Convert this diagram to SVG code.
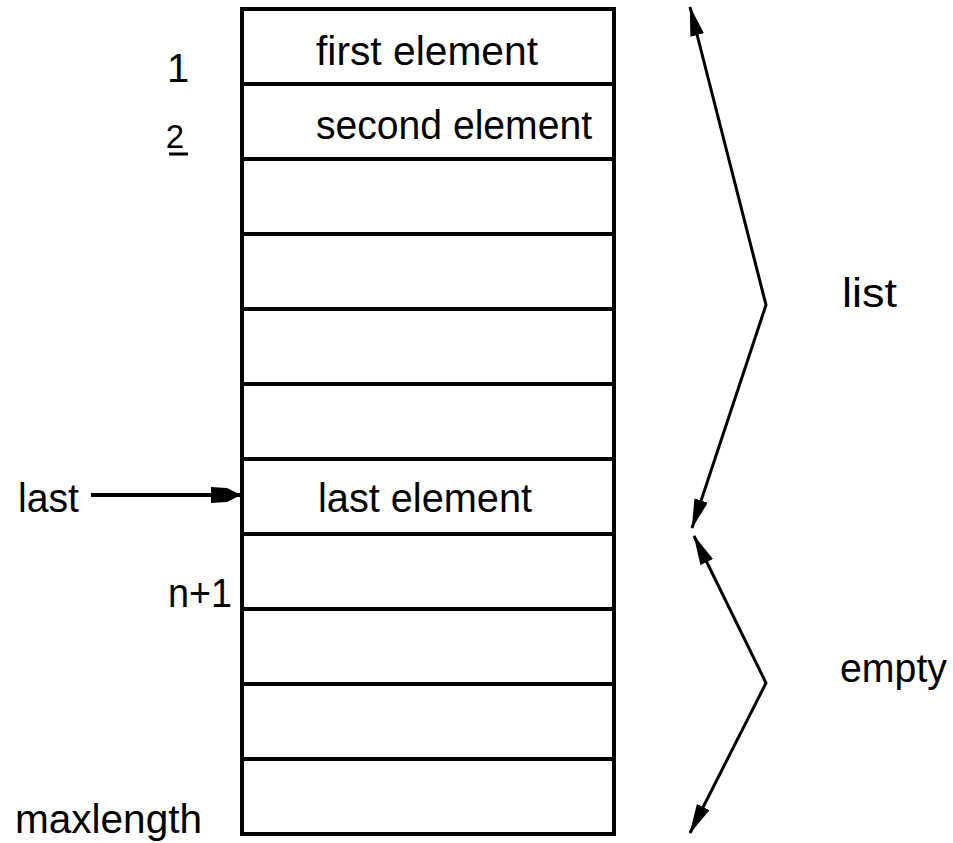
<svg xmlns="http://www.w3.org/2000/svg" width="953" height="843" viewBox="0 0 953 843">
  <style>
    .lbl { font-family: "Liberation Sans", Arial, sans-serif; font-size: 40px; fill: #000; }
    .cell { fill: #fff; stroke: #000; stroke-width: 4; }
    .rule { stroke: #000; stroke-width: 4; }
    .conn { fill: none; stroke: #000; stroke-width: 3; }
  </style>
  <defs>
    <marker id="head" viewBox="0 0 30 14" refX="29" refY="7" markerWidth="30" markerHeight="14" markerUnits="userSpaceOnUse" orient="auto-start-reverse">
      <path d="M0,0 L30,7 L0,14 Z" fill="#000"/>
    </marker>
    <marker id="block" viewBox="0 0 30 16" refX="29" refY="8" markerWidth="30" markerHeight="16" markerUnits="userSpaceOnUse" orient="auto">
      <path d="M0,0 L16,1 L30,8 L16,15 L0,16 Z" fill="#000"/>
    </marker>
  </defs>

  <rect width="953" height="843" fill="#fff"/>

  <!-- array storage: 11 slots of 75px -->
  <g id="array">
    <rect class="cell" x="242" y="9" width="372" height="825"/>
    <line class="rule" x1="242" y1="84" x2="614" y2="84"/>
    <line class="rule" x1="242" y1="159" x2="614" y2="159"/>
    <line class="rule" x1="242" y1="234" x2="614" y2="234"/>
    <line class="rule" x1="242" y1="309" x2="614" y2="309"/>
    <line class="rule" x1="242" y1="384" x2="614" y2="384"/>
    <line class="rule" x1="242" y1="459" x2="614" y2="459"/>
    <line class="rule" x1="242" y1="534" x2="614" y2="534"/>
    <line class="rule" x1="242" y1="609" x2="614" y2="609"/>
    <line class="rule" x1="242" y1="684" x2="614" y2="684"/>
    <line class="rule" x1="242" y1="759" x2="614" y2="759"/>
    <text class="lbl" x="316" y="65" textLength="222" lengthAdjust="spacingAndGlyphs">first element</text>
    <text class="lbl" x="316" y="139" textLength="276" lengthAdjust="spacingAndGlyphs">second element</text>
    <text class="lbl" x="318" y="512" textLength="214" lengthAdjust="spacingAndGlyphs">last element</text>
  </g>

  <!-- index labels on the left -->
  <g id="index-1">
    <text class="lbl" x="178" y="82" text-anchor="middle">1</text>
  </g>
  <g id="index-2">
    <text class="lbl" x="175" y="148" text-anchor="middle" style="font-size:33px">2</text>
    <line x1="169" y1="154" x2="188" y2="154" stroke="#000" stroke-width="3"/>
  </g>
  <g id="last-label">
    <text class="lbl" x="18" y="512" textLength="61" lengthAdjust="spacingAndGlyphs">last</text>
  </g>
  <g id="index-n1">
    <text class="lbl" x="168" y="607" textLength="64" lengthAdjust="spacingAndGlyphs">n+1</text>
  </g>
  <g id="maxlength-label">
    <text class="lbl" x="15" y="833" textLength="187" lengthAdjust="spacingAndGlyphs">maxlength</text>
  </g>

  <!-- range labels on the right -->
  <g id="list-label">
    <text class="lbl" x="842" y="307" textLength="55" lengthAdjust="spacingAndGlyphs">list</text>
  </g>
  <g id="empty-label">
    <text class="lbl" x="840" y="682" textLength="107" lengthAdjust="spacingAndGlyphs">empty</text>
  </g>

  <g id="connectors">
    <line class="conn" x1="91" y1="495" x2="240" y2="495" marker-end="url(#block)" style="stroke-width:4"/>
    <path class="conn" d="M690,7 L766,305 L692,528" marker-start="url(#head)" marker-end="url(#head)"/>
    <path class="conn" d="M694,536 L766,683 L690,833" marker-start="url(#head)" marker-end="url(#head)"/>
  </g>
</svg>
